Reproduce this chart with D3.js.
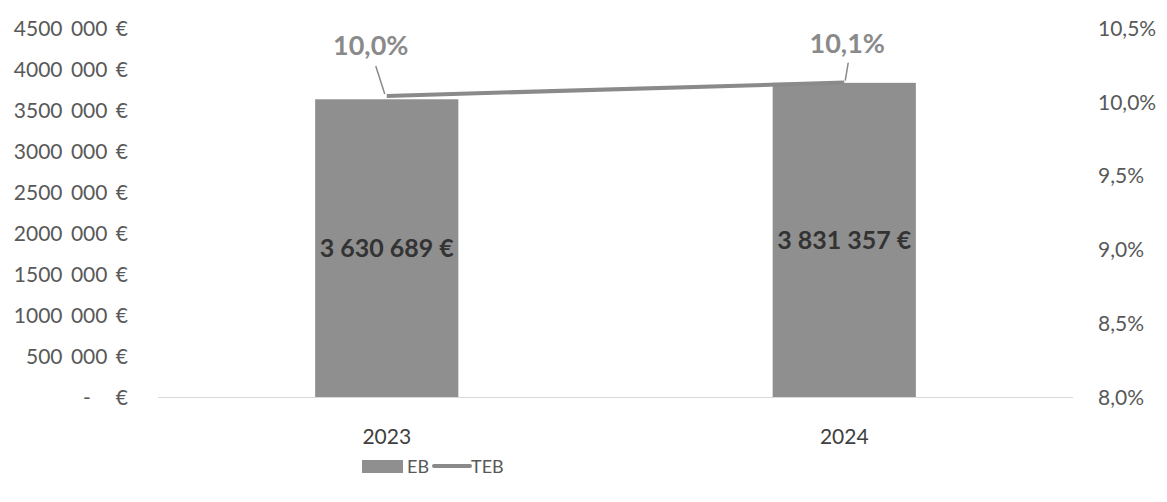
<!DOCTYPE html>
<html><head><meta charset="utf-8">
<script src="https://cdn.jsdelivr.net/npm/d3@7"></script>
<style>
html,body{margin:0;padding:0;background:#fff;}
svg text{font-family:Lato,"Open Sans",sans-serif;}
</style></head>
<body><svg id="c" width="1167" height="502"></svg>
<script>
const categories = ["2023","2024"];
const ebValues = [3630689, 3831357];
const tebValues = [10.04, 10.13];
const tebLabels = ["10,0%","10,1%"];
const leftTicks = [0,500000,1000000,1500000,2000000,2500000,3000000,3500000,4000000,4500000];
const rightTicks = [8.0,8.5,9.0,9.5,10.0,10.5];

const svg = d3.select("#c");
const L = 158, R = 1073, T = 28, B = 397;
const x = d3.scaleBand().domain(categories).range([L,R]).paddingInner(0.687).paddingOuter(0.3435);
const y = d3.scaleLinear().domain([0,4500000]).range([B,T]);
const y2 = d3.scaleLinear().domain([8.0,10.5]).range([B,T]);

const fmtEuro = v => {
  const s = String(v);
  const m = s.slice(-3), k = s.slice(-6,-3), h = s.slice(0,-6);
  return (h ? h + k : k) + " " + m + " €";
};
const fmtBar = v => d3.format(",")(v).replace(/,/g," ") + " €";
const fmtPct = v => d3.format(".1f")(v).replace(".",",") + "%";

// baseline
svg.append("line").attr("x1",L).attr("x2",R).attr("y1",B+0.5).attr("y2",B+0.5)
  .attr("stroke","#d9d9d9").attr("stroke-width",1);

// left axis
const ga = svg.append("g").attr("transform",`translate(128,0)`)
  .call(d3.axisLeft(y).tickValues(leftTicks).tickSize(0).tickPadding(0)
    .tickFormat(v => v===0 ? "-" : fmtEuro(v)));
ga.select(".domain").remove();
ga.selectAll("text").attr("font-size",21).attr("fill","#595959").attr("dy","0.35em")
  .attr("word-spacing","3")
  .style("white-space","pre")
  .text(v => v===0 ? "-   €" : fmtEuro(v));

// right axis
const gr = svg.append("g").attr("transform",`translate(1098,0)`)
  .call(d3.axisRight(y2).tickValues(rightTicks).tickSize(0).tickPadding(0).tickFormat(fmtPct));
gr.select(".domain").remove();
gr.selectAll("text").attr("font-size",21).attr("fill","#595959").attr("dy","0.35em");

// x axis labels
const gx = svg.append("g").attr("transform",`translate(0,${B})`)
  .call(d3.axisBottom(x).tickSize(0).tickPadding(40));
gx.select(".domain").remove();
gx.selectAll("text").attr("font-size",21).attr("fill","#404040").attr("dy","0.35em");

// bars
svg.selectAll("rect.bar").data(categories).enter().append("rect")
  .attr("x",d=>x(d)).attr("width",x.bandwidth())
  .attr("y",(d,i)=>y(ebValues[i])).attr("height",(d,i)=>B-y(ebValues[i]))
  .attr("fill","#8f8f8f");

// bar labels
svg.selectAll("text.bl").data(categories).enter().append("text")
  .attr("x",d=>x(d)+x.bandwidth()/2)
  .attr("y",(d,i)=>(y(ebValues[i])+B)/2)
  .attr("dy","0.35em").attr("text-anchor","middle")
  .attr("font-size",25).attr("font-weight","bold").attr("fill","#333")
  .text((d,i)=>fmtBar(ebValues[i]));

// line
const cx = d => x(d)+x.bandwidth()/2;
svg.append("path").datum(categories)
  .attr("d", d3.line().x(d=>cx(d)).y((d,i)=>y2(tebValues[i])))
  .attr("fill","none").attr("stroke","#8a8a8a").attr("stroke-width",4);

// line labels with leaders
const leadStart = [[-11,-30],[4,-20]];
const leadEnd = [[-2,-2],[1,-2]];
const lblOff = [[-16,-50],[3,-39]];
categories.forEach((d,i)=>{
  const px = cx(d), py = y2(tebValues[i]);
  svg.append("line")
    .attr("x1",px+leadStart[i][0]).attr("y1",py+leadStart[i][1])
    .attr("x2",px+leadEnd[i][0]).attr("y2",py+leadEnd[i][1])
    .attr("stroke","#8a8a8a").attr("stroke-width",1.5);
  svg.append("text").attr("x",px+lblOff[i][0]).attr("y",py+lblOff[i][1])
    .attr("dy","0.35em").attr("text-anchor","middle")
    .attr("font-size",27).attr("font-weight","bold").attr("fill","#8a8a8a")
    .text(tebLabels[i]);
});

// legend
const lg = svg.append("g");
lg.append("rect").attr("x",362).attr("y",460).attr("width",41).attr("height",13).attr("fill","#8f8f8f");
lg.append("text").attr("x",407).attr("y",467).attr("dy","0.35em").attr("font-size",18).attr("fill","#595959").text("EB");
lg.append("line").attr("x1",434).attr("x2",470).attr("y1",466).attr("y2",466)
  .attr("stroke","#8a8a8a").attr("stroke-width",4).attr("stroke-linecap","round");
lg.append("text").attr("x",471).attr("y",467).attr("dy","0.35em").attr("font-size",18).attr("fill","#595959").text("TEB");
</script></body></html>
